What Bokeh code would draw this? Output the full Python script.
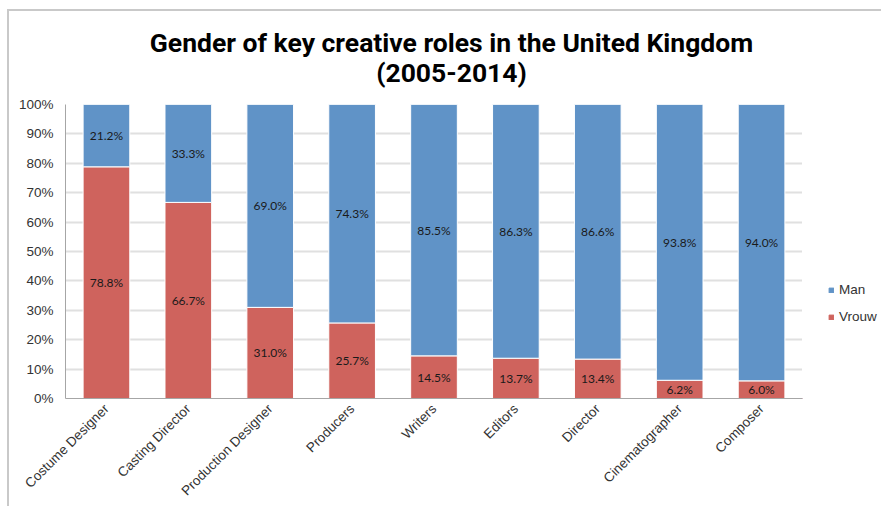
from bokeh.plotting import figure
from bokeh.layouts import row, column
from bokeh.models import (ColumnDataSource, FactorRange, FixedTicker, PrintfTickFormatter,
                          Label, Legend, LegendItem, LabelSet)
from bokeh.core.properties import value
from bokeh.embed import file_html
from bokeh.resources import INLINE
import math

categories = ["Costume Designer", "Casting Director", "Production Designer", "Producers",
              "Writers", "Editors", "Director", "Cinematographer", "Composer"]
vrouw = [78.8, 66.7, 31.0, 25.7, 14.5, 13.7, 13.4, 6.2, 6.0]
man = [21.2, 33.3, 69.0, 74.3, 85.5, 86.3, 86.6, 93.8, 94.0]
series_names = ["Man", "Vrouw"]
y_ticks = [0, 10, 20, 30, 40, 50, 60, 70, 80, 90, 100]
title_lines = ["Gender of key creative roles in the United Kingdom", "(2005-2014)"]

BLUE = "#6093C7"
RED = "#CF635D"

src = ColumnDataSource(dict(
    cat=categories, Vrouw=vrouw, Man=man,
    vmid=[v / 2 for v in vrouw],
    mmid=[v + m / 2 for v, m in zip(vrouw, man)],
    vlab=["%.1f%%" % v for v in vrouw],
    mlab=["%.1f%%" % m for m in man],
))

# ---- title strip ----
tf = figure(width=872, height=83, x_range=(0, 872), y_range=(0, 83), output_backend="svg",
            toolbar_location=None, min_border=0)
tf.axis.visible = False
tf.grid.grid_line_color = None
tf.outline_line_color = None
for i, t in enumerate(title_lines):
    tf.add_layout(Label(x=442, y=52 - 30 * i, text=t, text_align="center",
                        text_baseline="middle", text_font="Roboto", text_font_style="bold",
                        text_font_size="26.5px", text_color="#000000"))

# ---- main chart ----
p = figure(width=793, height=412, x_range=FactorRange(*categories), y_range=(0, 100),
           output_backend="svg", toolbar_location=None,
           min_border_left=56, min_border_right=0, min_border_top=10, min_border_bottom=107)
p.outline_line_color = None

r = p.vbar_stack(["Vrouw", "Man"], x="cat", width=0.57, source=src,
                 color=[RED, BLUE], line_color="white", line_width=1)

for col, ycol in (("vlab", "vmid"), ("mlab", "mmid")):
    ls = LabelSet(x="cat", y=ycol, text=col, source=src, text_align="center",
                  text_baseline="middle", text_font_size=value("12px"),
                  text_font=value("Lato"), text_color="#1a1a1a")
    p.add_layout(ls)

AX_FONT = "Liberation Sans"
p.yaxis.ticker = FixedTicker(ticks=y_ticks)
p.yaxis.formatter = PrintfTickFormatter(format="%d%%")
p.yaxis.major_tick_line_color = None
p.yaxis.minor_tick_line_color = None
p.yaxis.major_tick_out = 0
p.yaxis.major_tick_in = 0
p.yaxis.axis_line_color = "#a6a6a6"
p.yaxis.major_label_text_font = AX_FONT
p.yaxis.major_label_text_font_size = "13.5px"
p.yaxis.major_label_text_color = "#333333"
p.yaxis.major_label_standoff = 12

p.xaxis.major_label_orientation = math.pi / 4
p.xaxis.major_tick_line_color = None
p.xaxis.major_tick_out = 0
p.xaxis.major_tick_in = 0
p.xaxis.axis_line_color = "#a6a6a6"
p.xaxis.major_label_text_font = AX_FONT
p.xaxis.major_label_text_font_size = "13.5px"
p.xaxis.major_label_text_color = "#333333"
p.xaxis.major_label_standoff = 8

p.xgrid.grid_line_color = None
p.ygrid.grid_line_color = "#e0e0e0"
p.ygrid.grid_line_width = 2

# ---- legend strip to the right ----
lf = figure(width=79, height=412, x_range=(0, 1), y_range=(0, 1), output_backend="svg",
            toolbar_location=None, min_border=0)
lf.axis.visible = False
lf.grid.grid_line_color = None
lf.outline_line_color = None
dm = lf.vbar(x=[-10], top=[-10], bottom=[-11], width=0.5, color=BLUE)
dv = lf.vbar(x=[-10], top=[-10], bottom=[-11], width=0.5, color=RED)
legend = Legend(items=[LegendItem(label=series_names[0], renderers=[dm]),
                       LegendItem(label=series_names[1], renderers=[dv])],
                location=(26, 74), glyph_width=6, glyph_height=6, spacing=12,
                padding=0, margin=0, label_standoff=5,
                label_text_font=AX_FONT, label_text_font_size="13.5px",
                label_text_color="#333333", background_fill_alpha=0,
                border_line_color=None)
lf.add_layout(legend)

layout = column(tf, row(p, lf, spacing=0), spacing=0, margin=(9, 0, 0, 7),
                styles={"border-top": "2px solid #c9c9c9", "border-left": "2px solid #c9c9c9"})
open("out.html", "w").write(file_html(layout, INLINE))
